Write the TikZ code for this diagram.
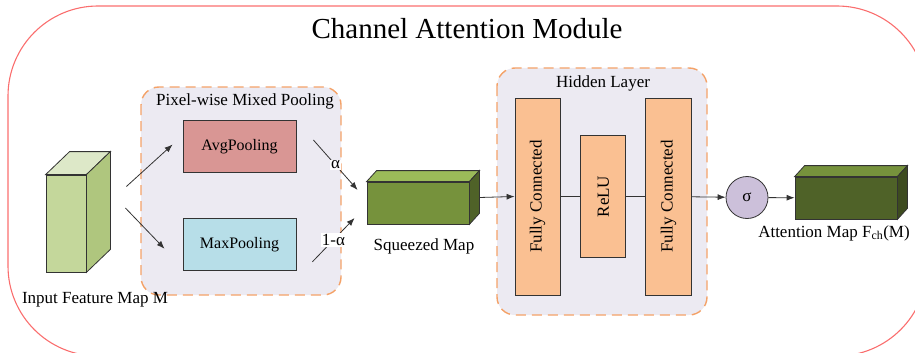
\documentclass[tikz,border=0pt]{standalone}
\usepackage{fontspec}
\setmainfont{Liberation Serif}
\usetikzlibrary{arrows.meta, positioning, calc}

\definecolor{frameRed}{RGB}{250,110,110}
\definecolor{panelLine}{RGB}{244,162,104}
\definecolor{panelFill}{RGB}{236,234,242}
\definecolor{avgFill}{RGB}{217,150,148}
\definecolor{maxFill}{RGB}{183,222,232}
\definecolor{fcFill}{RGB}{250,192,146}
\definecolor{sigFill}{RGB}{204,192,218}
\definecolor{inFront}{RGB}{196,215,155}
\definecolor{inTop}{RGB}{221,232,200}
\definecolor{inSide}{RGB}{175,198,126}
\definecolor{sqFront}{RGB}{118,146,60}
\definecolor{sqTop}{RGB}{155,187,89}
\definecolor{sqSide}{RGB}{79,98,40}
\definecolor{attFront}{RGB}{79,98,40}
\definecolor{attTop}{RGB}{118,146,60}
\definecolor{attSide}{RGB}{61,75,31}

% top and side faces of a box whose front face is node #1
\newcommand\cubefaces[5]{%
  \filldraw[fill=#4, draw=black!80, line width=0.8pt] (#1.north west) -- ++(#2,#3)
    -- ($(#1.north east)+(#2,#3)$) -- (#1.north east) -- cycle;
  \filldraw[fill=#5, draw=black!80, line width=0.8pt] (#1.north east) -- ++(#2,#3)
    -- ($(#1.south east)+(#2,#3)$) -- (#1.south east) -- cycle;}

\begin{document}
\begin{tikzpicture}[
    x=1pt, y=-1pt,
    font=\fontsize{17pt}{20pt}\selectfont,
    panel/.style={draw=panelLine, fill=panelFill, line width=1.4pt,
      dash pattern=on 10pt off 6pt, rounded corners=18pt},
    block/.style={draw=black!80, line width=0.8pt, inner sep=0pt},
    front/.style={draw=black!80, line width=0.8pt, inner sep=0pt},
    arrow/.style={draw=black!80, line width=0.8pt, -{Latex[length=8pt,width=6pt]}},
    link/.style={draw=black!80, line width=0.8pt}
]
    \useasboundingbox (0,0) rectangle (915,353);
    \begin{scope}
        \clip (0,0) rectangle (915,353);
        \draw[frameRed, line width=1.1pt, rounded corners=90pt] (8,6) rectangle (927,356);
    \end{scope}
    \node[font=\fontsize{29pt}{32pt}\selectfont] (title) at (467,29) {Channel Attention Module};

    % panels
    \draw[panel] (141,87) rectangle (341,295);
    \draw[panel] (497,68) rectangle (707,315);
    \node (pooltitle) at (245,101) {Pixel-wise Mixed Pooling};
    \node (hidtitle) at (603,83) {Hidden Layer};

    % input feature map
    \node[front, fill=inFront, minimum width=40pt, minimum height=97pt] (in) at (66,223.5) {};
    \cubefaces{in}{24}{-23}{inTop}{inSide}
    \node (inlabel) at (95,300) {Input Feature Map M};

    % pooling branches
    \node[block, fill=avgFill, minimum width=113pt, minimum height=52pt,
      font=\fontsize{16pt}{19pt}\selectfont] (avgp) at (239.5,146.5) {AvgPooling};
    \node[block, fill=maxFill, minimum width=113pt, minimum height=52pt,
      font=\fontsize{16pt}{19pt}\selectfont, below=45pt of avgp] (maxp) {MaxPooling};

    % squeezed map
    \node[front, fill=sqFront, minimum width=102pt, minimum height=42pt] (sq) at (418,203) {};
    \cubefaces{sq}{10}{-11}{sqTop}{sqSide}
    \node (sqlabel) at (424,246) {Squeezed Map};

    \draw[arrow] ($(in.east)+(40,-37)$) -- ($(avgp.west)+(-10,-2)$);
    \draw[arrow] ($(in.east)+(39,-15.5)$) -- ($(maxp.west)+(-18,4.5)$);
    \draw[arrow] ($(avgp.east)+(17,-6.5)$) -- node[fill=white, inner sep=1pt] (alpha) {α}
      ($(sq.west)+(-9,-13)$);
    \draw[arrow] ($(maxp.east)+(16,17.5)$) -- node[fill=white, inner sep=1pt] (malpha) {1-α}
      ($(sq.west)+(-12,15)$);

    % hidden layer
    \node[block, fill=fcFill, minimum width=45pt, minimum height=197pt,
      label={[rotate=90]center:Fully Connected}] (fc1) at (537.5,196.5) {};
    \node[block, fill=fcFill, minimum width=45pt, minimum height=122pt,
      label={[rotate=90]center:ReLU}, right=20pt of fc1] (relu) {};
    \node[block, fill=fcFill, minimum width=46pt, minimum height=197pt,
      label={[rotate=90]center:Fully Connected}, right=19pt of relu] (fc2) {};
    \draw[arrow] ($(sq.east)+(10,-5.5)$) -- (fc1.west);
    \draw[link] (fc1) -- (relu);
    \draw[link] (relu) -- (fc2);

    % sigmoid and attention map
    \node[circle, block, fill=sigFill, minimum size=42pt] (sig) at (747,197.5) {σ};
    \node[front, fill=attFront, minimum width=102pt, minimum height=42pt] (att) at (846,198) {};
    \cubefaces{att}{10}{-11}{attTop}{attSide}
    \node (attlabel) at (834,233) {Attention Map F\textsubscript{ch}(M)};
    \draw[arrow] (fc2) -- (sig);
    \draw[arrow] (sig) -- (att);
\end{tikzpicture}
\end{document}
